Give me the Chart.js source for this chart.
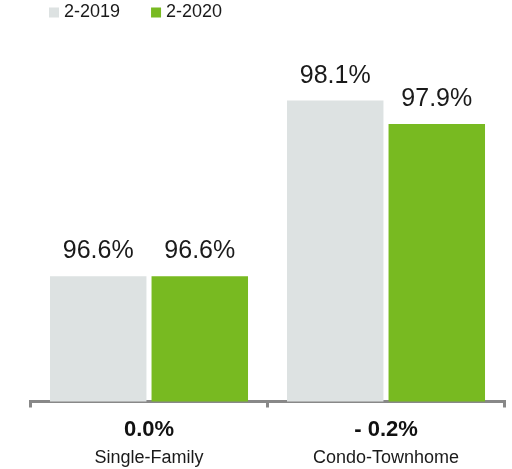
<!DOCTYPE html>
<html>
<head>
<meta charset="utf-8">
<script src="https://cdn.jsdelivr.net/npm/chart.js@4.4.1/dist/chart.umd.min.js"></script>
<style>
  html, body { margin: 0; padding: 0; background: #fff; }
  #wrap { width: 512px; height: 469px; }
</style>
</head>
<body>
<div id="wrap"><canvas id="c"></canvas></div>
<script>
const categories = ['Single-Family', 'Condo-Townhome'];
const changes = ['0.0%', '- 0.2%'];
const seriesNames = ['2-2019', '2-2020'];
const prevYear = [96.6, 98.1];
const currYear = [96.6, 97.9];

const FONT = "'Liberation Sans', Arial, Helvetica, sans-serif";
const GREY = '#dde2e2', GREEN = '#78ba21', AXIS = '#888888';

// value labels above each bar
const barLabels = {
  id: 'barLabels',
  afterDatasetsDraw(chart) {
    const ctx = chart.ctx;
    ctx.save();
    ctx.font = '25px ' + FONT;
    ctx.fillStyle = '#1a1a1a';
    ctx.textAlign = 'center';
    ctx.textBaseline = 'alphabetic';
    chart.data.datasets.forEach((ds, i) => {
      chart.getDatasetMeta(i).data.forEach((bar, j) => {
        ctx.fillText(ds.data[j].toFixed(1) + '%', bar.x, bar.y - 18);
      });
    });
    ctx.restore();
  }
};

new Chart(document.getElementById('c'), {
  type: 'bar',
  data: {
    labels: categories,
    datasets: [
      { label: seriesNames[0], data: prevYear, backgroundColor: GREY, borderWidth: 0 },
      { label: seriesNames[1], data: currYear, backgroundColor: GREEN, borderWidth: 0 }
    ]
  },
  options: {
    responsive: true,
    maintainAspectRatio: false,
    animation: false,
    categoryPercentage: 0.857,
    barPercentage: 0.95,
    layout: { padding: { top: -31.5, left: 18, right: 7.5, bottom: 0 } },
    plugins: {
      tooltip: { enabled: false },
      legend: {
        position: 'top',
        align: 'start',
        labels: {
          usePointStyle: true,
          pointStyle: 'rect',
          boxWidth: 2,
          boxHeight: 10,
          padding: 35,
          color: '#1a1a1a',
          font: { family: FONT, size: 18 }
        }
      }
    },
    scales: {
      y: {
        display: true,
        min: 95.53,
        max: 98.69,
        ticks: { display: false },
        grid: { display: false },
        border: { display: false },
        afterFit: s => { s.width = 12.5; }
      },
      x: {
        type: 'category',
        position: 'bottom',
        offset: true,
        weight: 0,
        grid: { display: true, offset: true, drawOnChartArea: false, drawTicks: true, tickLength: 6, color: AXIS, lineWidth: 3 },
        border: { display: true, color: AXIS, width: 3 },
        ticks: {
          autoSkip: false, maxRotation: 0, padding: 9,
          color: '#111', font: { family: FONT, size: 22, weight: 'bold' },
          callback: (v, i) => changes[i]
        },
        afterFit: s => { s.height = 40; }
      },
      x2: {
        type: 'category',
        position: 'bottom',
        labels: categories,
        offset: true,
        weight: 1,
        grid: { display: false, drawTicks: false },
        border: { display: false },
        ticks: { autoSkip: false, maxRotation: 0, padding: 6, color: '#1a1a1a', font: { family: FONT, size: 18 } },
        afterFit: s => { s.height = 27.5; }
      }
    }
  },
  plugins: [barLabels]
});
</script>
</body>
</html>
